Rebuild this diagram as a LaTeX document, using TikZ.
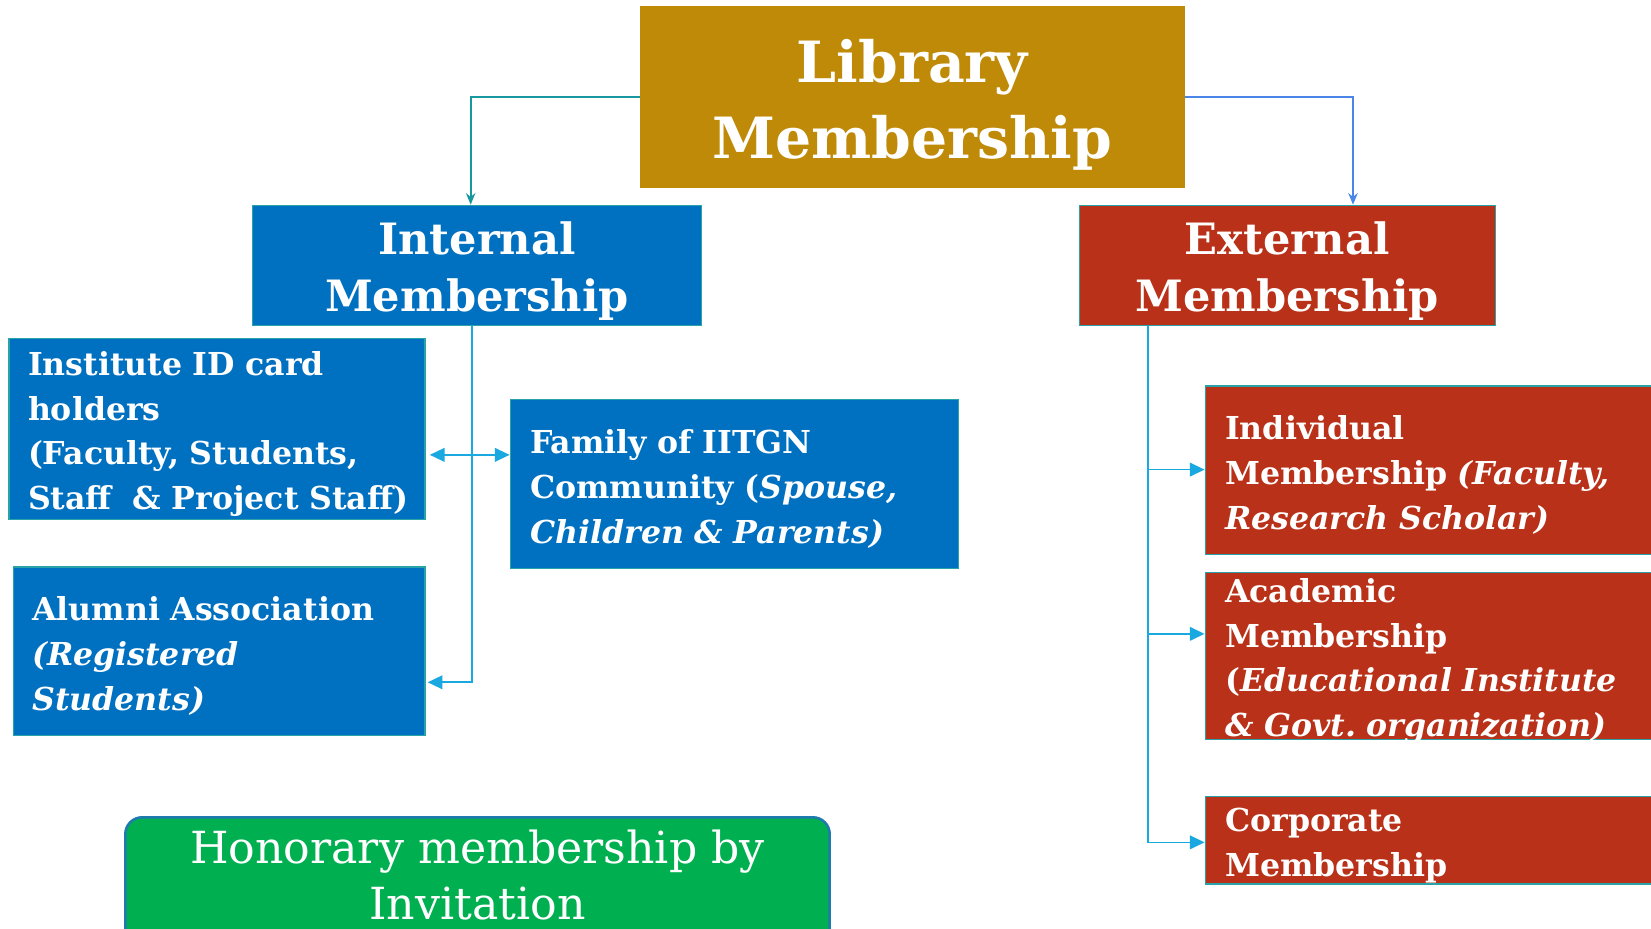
\documentclass[tikz,border=0pt]{standalone}
\usepackage{fontspec}
\setmainfont{DejaVu Serif}
\usetikzlibrary{arrows.meta,positioning}
\frenchspacing

\definecolor{libgold}{HTML}{BF8A08}
\definecolor{intblue}{HTML}{0070C0}
\definecolor{extred}{HTML}{B83118}
\definecolor{hongreen}{HTML}{00B050}
\definecolor{boxedge}{HTML}{2AA3A8}
\definecolor{honedge}{HTML}{1F7AB0}
\definecolor{linkblue}{HTML}{1AA8E0}
\definecolor{linkteal}{HTML}{17989E}
\definecolor{linkright}{HTML}{4A86E8}

\begin{document}
\begin{tikzpicture}[x=1pt,y=-1pt,
    box/.style={draw=boxedge,line width=1.2pt,text=white,inner ysep=0pt},
    headbox/.style={box,align=center,font=\bfseries\fontsize{41}{54}\selectfont},
    itembox/.style={box,anchor=north west,align=left,inner xsep=18pt,
      font=\bfseries\fontsize{30}{42.5}\selectfont,
      execute at begin node={\rule{0pt}{32pt}}},
    link/.style={draw=linkblue,line width=1.6pt},
    tip/.style={-{Triangle[length=14pt,width=13pt]}},
    toptip/.style={line width=1.6pt,-{Stealth[length=11pt,width=9pt]}}]
  \useasboundingbox (0,0) rectangle (1568,882);

  \node (lib) [box,draw=libgold,fill=libgold,minimum width=517pt,minimum height=172pt,
    align=center,font=\bfseries\fontsize{54}{72}\selectfont] at (866.5,92) {\rule{0pt}{56pt}Library\\Membership};

  \node (int) [headbox,fill=intblue,minimum width=426pt,minimum height=114pt] at (453,252) {\rule{0pt}{42pt}Internal\\Membership};
  \node (ext) [headbox,fill=extred,minimum width=395pt,minimum height=114pt] at (1222.5,252) {\rule{0pt}{42pt}External\\Membership};

  % internal members
  \node (inst) [itembox,fill=intblue,text width=359pt,minimum height=172pt] at (8,321)
    {Institute ID card\\holders\\(Faculty, Students,\\\mbox{Staff~~\& Project Staff)}};
  \node (fam) [itembox,fill=intblue,text width=388pt,inner xsep=19pt,minimum height=160pt] at (484,379)
    {Family of IITGN\\Community (\textit{Spouse,}\\\textit{Children \& Parents)}};
  \node (alum) [itembox,fill=intblue,text width=355pt,minimum height=160pt] at (12,538)
    {Alumni Association\\\textit{(Registered}\\\textit{Students)}};

  % external members
  \node (indv) [itembox,fill=extred,text width=412pt,inner xsep=19pt,minimum height=160pt] at (1144,366)
    {Individual\\Membership \textit{(Faculty,}\\\textit{Research Scholar)}};
  \node (acad) [itembox,fill=extred,text width=412pt,inner xsep=19pt,inner ysep=-5pt,minimum height=159pt] at (1144,543)
    {Academic\\Membership\\(\textit{Educational Institute}\\\textit{\& Govt. organization)}};
  \node (corp) [itembox,fill=extred,text width=412pt,inner xsep=19pt,minimum height=83pt] at (1144,756)
    {Corporate\\Membership};

  \node (hon) [draw=honedge,fill=hongreen,line width=2.4pt,rounded corners=16pt,anchor=north,
    minimum width=669pt,minimum height=180pt] at (453.5,775) {};
  \node (honlbl) [text=white,align=center,font=\fontsize{42}{53}\selectfont] at (453.5,831)
    {Honorary membership by\\Invitation};

  % connectors
  \draw[toptip,linkteal] (lib.west) -| ([xshift=-6pt]int.north);
  \draw[toptip,linkright] (lib.east) -| ([xshift=62.5pt]ext.north);

  \coordinate (ibot) at (448,648);
  \coordinate (imid) at (448,432);
  \draw[link,tip] ([xshift=-5pt]int.south) -- (ibot) -- ([xshift=2pt]alum.east |- ibot);
  \draw[link,tip] (imid) -- ([xshift=4pt]inst.east |- imid);
  \draw[link,tip] (imid) -- (fam.west |- imid);

  \coordinate (e1) at (1090,446);
  \coordinate (e2) at (1090,602);
  \draw[link,tip] ([xshift=-132.5pt]ext.south) |- (corp.west |- 0,800);
  \draw[link,tip] (e1) -- (indv.west |- e1);
  \draw[link,tip] (e2) -- (acad.west |- e2);
\end{tikzpicture}
\end{document}
